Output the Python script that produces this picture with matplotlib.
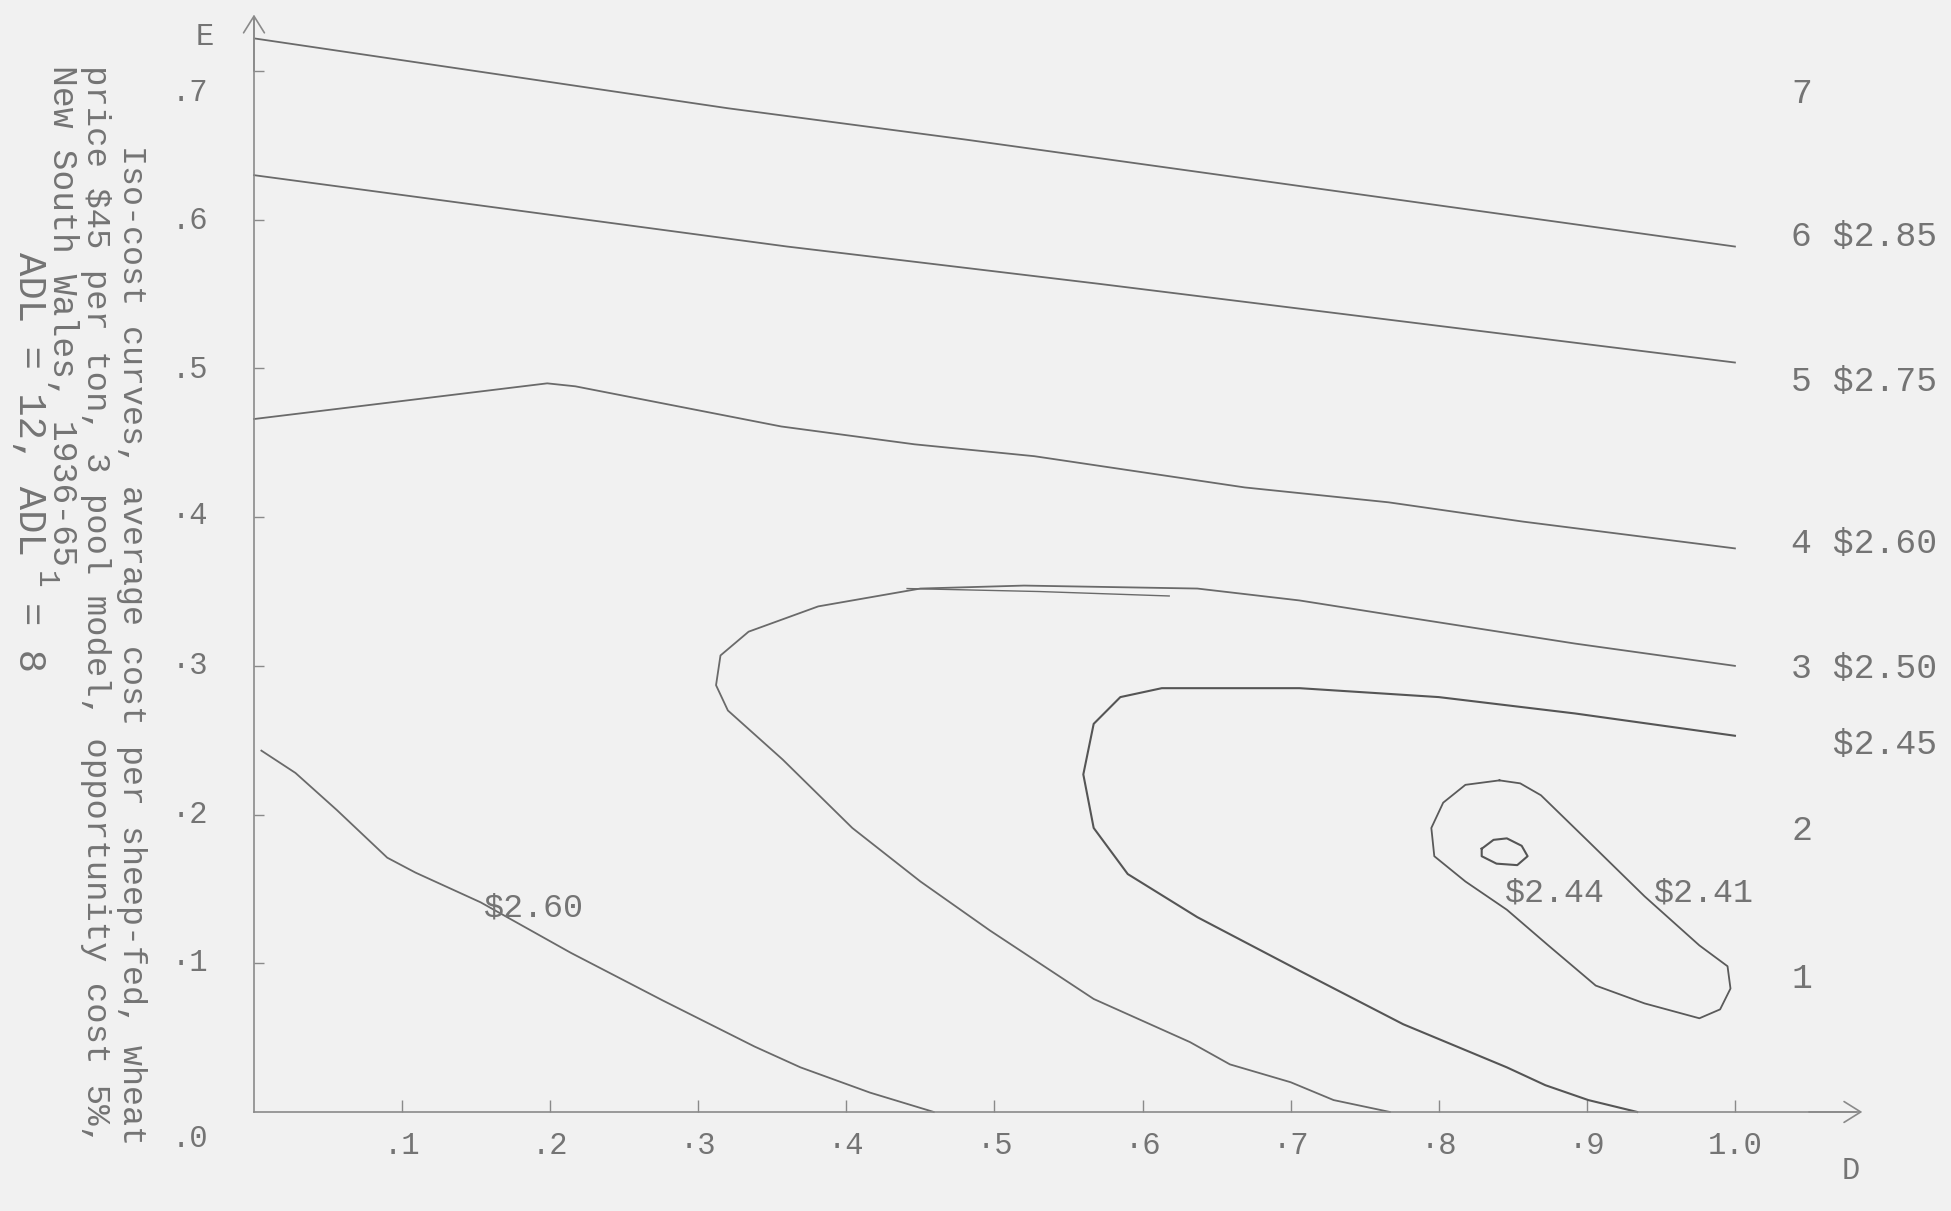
import matplotlib
matplotlib.use("Agg")
import matplotlib.pyplot as plt

# D (horizontal) and E (vertical) values
d_285 = [0.0, 0.32, 0.48, 1.0]
e_285 = [0.722, 0.675, 0.654, 0.582]

d_275 = [0.0, 0.36, 0.57, 1.0]
e_275 = [0.630, 0.582, 0.557, 0.504]

d_260_up = [0.0, 0.198, 0.217, 0.356, 0.446, 0.527, 0.669, 0.766, 0.857, 1.0]
e_260_up = [0.466, 0.490, 0.488, 0.461, 0.449, 0.441, 0.420, 0.410, 0.397, 0.379]

d_250 = [1.0, 0.892, 0.776, 0.706, 0.637, 0.520, 0.450, 0.381, 0.334, 0.315, 0.312,
         0.320, 0.357, 0.404, 0.450, 0.497, 0.567, 0.632, 0.659, 0.700, 0.729, 0.767]
e_250 = [0.300, 0.315, 0.333, 0.344, 0.352, 0.354, 0.352, 0.340, 0.323, 0.307, 0.287,
         0.270, 0.237, 0.191, 0.155, 0.122, 0.076, 0.047, 0.032, 0.020, 0.008, 0.0]

# short doubled stroke on top of the $2.50 curve
d_250b = [0.441, 0.530, 0.618]
e_250b = [0.352, 0.350, 0.347]

d_245 = [1.0, 0.892, 0.800, 0.706, 0.613, 0.585, 0.567, 0.560, 0.567, 0.590, 0.637,
         0.706, 0.776, 0.846, 0.872, 0.901, 0.934]
e_245 = [0.253, 0.268, 0.279, 0.285, 0.285, 0.279, 0.261, 0.227, 0.191, 0.160, 0.131,
         0.095, 0.059, 0.030, 0.018, 0.008, 0.0]

d_241 = [0.841, 0.818, 0.803, 0.795, 0.797, 0.818, 0.846, 0.874, 0.906, 0.939, 0.976,
         0.990, 0.997, 0.995, 0.976, 0.939, 0.901, 0.869, 0.855, 0.841]
e_241 = [0.223, 0.220, 0.208, 0.191, 0.172, 0.155, 0.136, 0.112, 0.085, 0.073, 0.063,
         0.069, 0.083, 0.098, 0.112, 0.145, 0.182, 0.213, 0.221, 0.223]

d_244 = [0.829, 0.837, 0.846, 0.856, 0.860, 0.853, 0.839, 0.829, 0.829]
e_244 = [0.177, 0.183, 0.184, 0.179, 0.172, 0.166, 0.167, 0.172, 0.177]

d_260_low = [0.005, 0.028, 0.056, 0.090, 0.109, 0.153, 0.214, 0.276, 0.338, 0.369, 0.416, 0.459]
e_260_low = [0.243, 0.228, 0.203, 0.171, 0.161, 0.141, 0.107, 0.075, 0.044, 0.030, 0.013, 0.0]

x_ticks = [0.1, 0.2, 0.3, 0.4, 0.5, 0.6, 0.7, 0.8, 0.9, 1.0]
x_labels = [".1", ".2", "·3", "·4", "·5", "·6", "·7", "·8", "·9", "1.0"]
y_ticks = [0.1, 0.2, 0.3, 0.4, 0.5, 0.6, 0.7]
y_labels = [".0", "·1", "·2", "·3", "·4", ".5", ".6", ".7"]
# the typed E labels do not sit exactly on their ticks
y_label_e = [-0.018, 0.100, 0.200, 0.300, 0.401, 0.499, 0.599, 0.685]

# labels at the right-hand end of the curves
right_labels = ["7", "6 $2.85", "5 $2.75", "4 $2.60", "3 $2.50", "  $2.45", "2", "1"]
right_label_e = [0.685, 0.589, 0.491, 0.382, 0.298, 0.247, 0.189, 0.090]

caption = ["Iso-cost curves, average cost per sheep-fed, wheat",
           "price $45 per ton, 3 pool model, opportunity cost 5%,",
           "New South Wales, 1936-65",
           "ADL = 12, ADL",
           "= 8"]

BG = "#f1f1f1"
INK = "#6a6a6a"
TXT = "#747474"
FONT = "Liberation Mono"

fig = plt.figure(figsize=(19.51, 12.11), dpi=100, facecolor=BG)
ax = fig.add_axes([0, 0, 1, 1], facecolor=BG)
ax.set_xlim(-0.1715, 1.1459)
ax.set_ylim(-0.0666, 0.7478)

lw = 1.3
ax.plot(d_285, e_285, color=INK, lw=lw)
ax.plot(d_275, e_275, color=INK, lw=lw)
ax.plot(d_260_up, e_260_up, color=INK, lw=lw)
ax.plot(d_250, e_250, color=INK, lw=lw)
ax.plot(d_250b, e_250b, color=INK, lw=1.0)
ax.plot(d_245, e_245, color="#555555", lw=1.5)
ax.plot(d_241, e_241, color="#5a5a5a", lw=1.3)
ax.plot(d_244, e_244, color="#555555", lw=1.5)
ax.plot(d_260_low, e_260_low, color=INK, lw=lw)

# axes with open arrow heads
for s in ["top", "right"]:
    ax.spines[s].set_visible(False)
ax.spines["left"].set_position(("data", 0))
ax.spines["bottom"].set_position(("data", 0))
ax.spines["left"].set_bounds(0, 0.735)
ax.spines["bottom"].set_bounds(0, 1.082)
for s in ["left", "bottom"]:
    ax.spines[s].set_color("#8a8a8a")
    ax.spines[s].set_linewidth(1.2)
arrow = dict(arrowstyle="->,head_length=0.8,head_width=0.5", color="#8a8a8a", lw=1.2,
             mutation_scale=15, shrinkA=0, shrinkB=0)
ax.annotate("", xy=(0, 0.738), xytext=(0, 0.70), arrowprops=arrow)
ax.annotate("", xy=(1.086, 0), xytext=(1.05, 0), arrowprops=arrow)

ax.set_xticks(x_ticks, x_labels)
ax.set_yticks(y_ticks, [])
ax.tick_params(axis="x", direction="in", length=9, width=1, color="#8a8a8a",
               pad=14, labelsize=22, labelcolor=TXT)
ax.tick_params(axis="y", direction="in", length=7, width=1, color="#8a8a8a")
for lab in ax.get_xticklabels():
    lab.set_fontfamily(FONT)

for lab, e in zip(y_labels, y_label_e):
    ax.text(-0.031, e, lab, fontsize=22, color=TXT, family=FONT, ha="right", va="center")

ax.text(-0.033, 0.723, "E", fontsize=22, color=TXT, family=FONT, ha="center", va="center")
ax.text(1.078, -0.040, "D", fontsize=22, color=TXT, family=FONT, ha="center", va="center")

for lab, e in zip(right_labels, right_label_e):
    ax.text(1.038, e, lab, fontsize=25, color=TXT, family=FONT, ha="left", va="center")

ax.text(0.155, 0.137, "$2.60", fontsize=24, color=TXT, family=FONT, ha="left", va="center")
ax.text(0.845, 0.147, "$2.44", fontsize=24, color=TXT, family=FONT, ha="left", va="center")
ax.text(0.945, 0.147, "$2.41", fontsize=24, color=TXT, family=FONT, ha="left", va="center")

# rotated typewritten caption down the left side (pixel x, pixel y of first letter, size)
cap_pos = [(131, 145, 24), (95, 65, 24.5), (62, 65, 25), (29, 252, 28), (29, 602, 28)]
for line, (px, py, fs) in zip(caption, cap_pos):
    fig.text(px / 1951, 1 - py / 1211, line, rotation=-90, rotation_mode="anchor",
             ha="left", va="center", fontsize=fs, color=TXT, family=FONT)
# raised "1" of ADL¹, typed half a line up
fig.text(45 / 1951, 1 - 580 / 1211, "1", rotation=-90, rotation_mode="anchor",
         ha="center", va="center", fontsize=21, color=TXT, family=FONT)

fig.savefig("out.png", dpi=100, facecolor=BG)
